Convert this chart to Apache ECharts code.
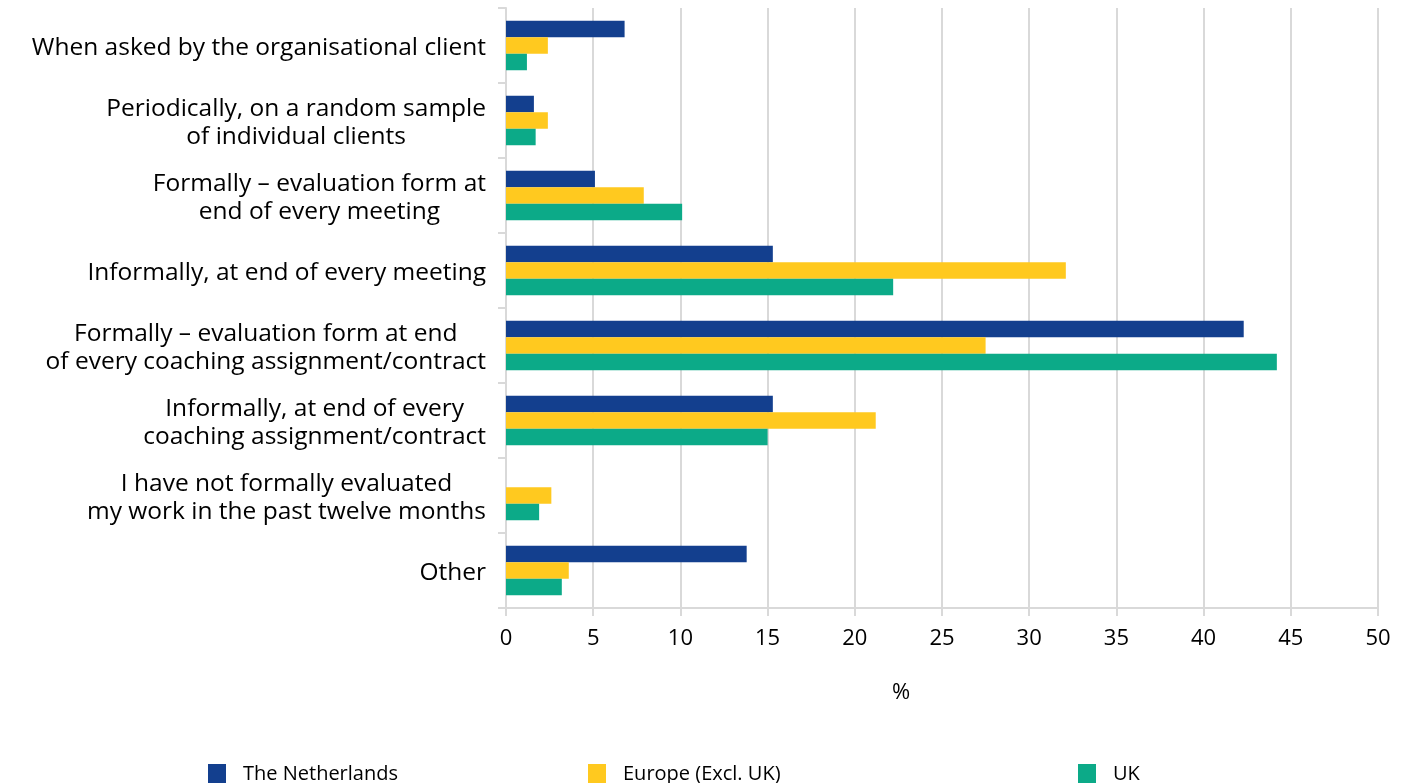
<!DOCTYPE html>
<html>
<head>
<meta charset="utf-8">
<script src="https://cdn.jsdelivr.net/npm/echarts@6/dist/echarts.min.js"></script>
<style>
  html, body { margin: 0; padding: 0; background: #fff; }
  #main { width: 1412px; height: 783px; }
</style>
</head>
<body>
<div id="main"></div>
<script>
// categories, top to bottom
const categories = [
  'When asked by the organisational client',
  'Periodically, on a random sample\nof individual clients',
  'Formally – evaluation form at\nend of every meeting',
  'Informally, at end of every meeting',
  'Formally – evaluation form at end\nof every coaching assignment/contract',
  'Informally, at end of every\ncoaching assignment/contract',
  'I have not formally evaluated\nmy work in the past twelve months',
  'Other'
];
const netherlands = [6.8, 1.6, 5.1, 15.3, 42.3, 15.3, 0, 13.8];
const europe = [2.4, 2.4, 7.9, 32.1, 27.5, 21.2, 2.6, 3.6];
const uk = [1.2, 1.7, 10.1, 22.2, 44.2, 15.0, 1.9, 3.2];
const xTicks = [0, 5, 10, 15, 20, 25, 30, 35, 40, 45, 50];

const seriesNames = ['The Netherlands', 'Europe (Excl. UK)', 'UK'];
const colors = ['#133f8e', '#ffc91f', '#0caa88'];
const font = '"Open Sans", "Noto Sans", sans-serif';

const myChart = echarts.init(document.getElementById('main'));

// one legend per item, the gaps in the original are uneven
const legendLeft = [203, 583, 1073];
const legends = seriesNames.map((n, i) => ({
  data: [n],
  left: legendLeft[i],
  top: 759,
  icon: 'rect',
  itemWidth: 18,
  itemHeight: 20,
  itemGap: 0,
  textStyle: { fontFamily: font, fontSize: 20, color: '#000', padding: [0, 0, 0, 12] }
}));

const option = {
  animation: false,
  color: colors,
  legend: legends,
  grid: { left: 506, right: 34, top: 8, bottom: 175, containLabel: false },
  xAxis: {
    type: 'value',
    min: xTicks[0],
    max: xTicks[xTicks.length - 1],
    interval: 5,
    name: '%',
    nameLocation: 'middle',
    nameGap: 74,
    nameTextStyle: { fontFamily: font, fontSize: 22, color: '#000', padding: [0, 82, 0, 0] },
    axisLine: { show: true, lineStyle: { color: '#d9d9d9', width: 2 } },
    axisTick: { show: true, length: 8, lineStyle: { color: '#d9d9d9', width: 2 } },
    axisLabel: { fontFamily: font, fontSize: 22, color: '#000', margin: 20 },
    splitLine: { show: true, lineStyle: { color: '#d9d9d9', width: 2 } }
  },
  yAxis: {
    type: 'category',
    inverse: true,
    data: categories,
    axisLine: { show: true, lineStyle: { color: '#d9d9d9', width: 2 } },
    axisTick: { show: true, length: 8, lineStyle: { color: '#d9d9d9', width: 2 } },
    axisLabel: {
      margin: 20,
      align: 'right',
      padding: [5, 0, 0, 0],
      fontFamily: font,
      fontSize: 24.5,
      color: '#000',
      formatter: v => v.split('\n').map(s => '{c|' + s + '}').join('\n'),
      rich: {
        c: { align: 'center', fontFamily: font, fontSize: 24.5, lineHeight: 28, color: '#000' }
      }
    },
    splitLine: { show: false }
  },
  series: [
    { name: seriesNames[0], type: 'bar', data: netherlands, barWidth: 16.5, barGap: '0%' },
    { name: seriesNames[1], type: 'bar', data: europe, barWidth: 16.5, barGap: '0%' },
    { name: seriesNames[2], type: 'bar', data: uk, barWidth: 16.5, barGap: '0%' }
  ]
};
option && myChart.setOption(option);
</script>
</body>
</html>
